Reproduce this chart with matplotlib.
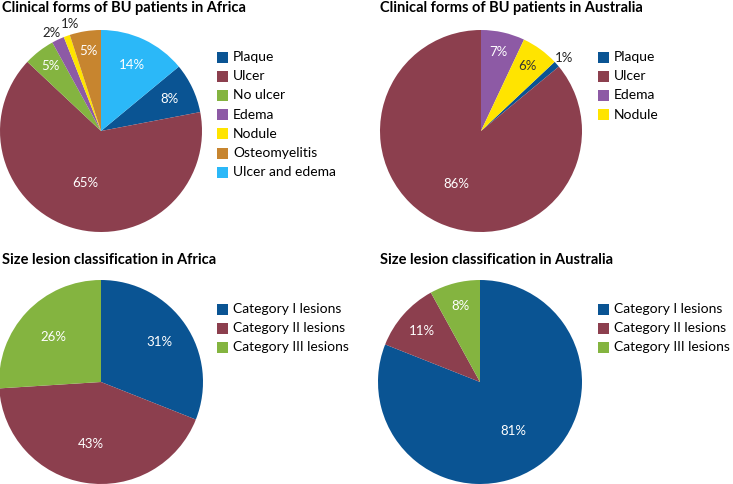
import numpy as np
import matplotlib
matplotlib.use("Agg")
import matplotlib.pyplot as plt
from matplotlib.patches import Rectangle

plt.rcParams['font.family'] = ['Lato', 'DejaVu Sans']

W, H = 733, 484

# Datos
forms_africa = ["Plaque", "Ulcer", "No ulcer", "Edema", "Nodule", "Osteomyelitis", "Ulcer and edema"]
forms_africa_pct = [8, 65, 5, 2, 1, 5, 14]

forms_australia = ["Plaque", "Ulcer", "Edema", "Nodule"]
forms_australia_pct = [1, 86, 7, 6]

size_labels = ["Category I lesions", "Category II lesions", "Category III lesions"]
size_africa_pct = [31, 43, 26]
size_australia_pct = [81, 11, 8]

# Colores
BLUE = "#0a5493"
RED = "#8c3f4e"
GREEN = "#84b440"
PURPLE = "#8d5aa5"
YELLOW = "#ffe400"
ORANGE = "#c7852f"
LIGHTBLUE = "#2bb8f8"

fig = plt.figure(figsize=(W / 100, H / 100), dpi=100)


def px(x, y):
    # pixel -> figure coords
    return x / W, 1 - y / H


def draw_pie(cx, cy, r, values, colors, startangle, dists, txt_colors, shifts=None):
    ax = fig.add_axes([(cx - r) / W, 1 - (cy + r) / H, 2 * r / W, 2 * r / H])
    wedges, _ = ax.pie(values, colors=colors, startangle=startangle,
                       counterclock=False, radius=1,
                       wedgeprops=dict(linewidth=0))
    ax.set_xlim(-1, 1)
    ax.set_ylim(-1, 1)
    ax.set_aspect("equal")
    ax.axis("off")
    if shifts is None:
        shifts = [0] * len(values)
    # Etiquetas de porcentaje
    for w, v, d, c, s in zip(wedges, values, dists, txt_colors, shifts):
        ang = np.deg2rad((w.theta1 + w.theta2) / 2 + s)
        ax.text(d * np.cos(ang), d * np.sin(ang), f"{v}%", ha="center",
                va="center", color=c, fontsize=9.5)
    return wedges


def draw_legend(x, y, labels, colors, step=19.2):
    for i, (lab, col) in enumerate(zip(labels, colors)):
        yy = y + i * step
        fx, fy = px(x, yy + 5.5)
        fig.patches.append(Rectangle((fx, fy), 11 / W, 11 / H, facecolor=col,
                                     edgecolor="none", transform=fig.transFigure))
        tx, ty = px(x + 16, yy)
        fig.text(tx, ty, lab, ha="left", va="center", fontsize=10.0)


def title(x, y, s):
    tx, ty = px(x, y)
    fig.text(tx, ty, s, ha="left", va="center", fontsize=10.5, fontweight="bold")


# Formas clinicas Africa
cols1 = [BLUE, RED, GREEN, PURPLE, YELLOW, ORANGE, LIGHTBLUE]
draw_pie(101, 131, 101, forms_africa_pct, cols1, 90 - 50.4,
         [0.75, 0.54, 0.81, 1.09, 1.1, 0.8, 0.72],
         ["white", "white", "white", "#222222", "#222222", "white", "white"],
         shifts=[0, 0, 0, 1.5, -3.5, 0, 0])
draw_legend(217, 57, forms_africa, cols1)
title(2, 8, "Clinical forms of BU patients in Africa")

# Formas clinicas Australia
cols2 = [BLUE, RED, PURPLE, YELLOW]
draw_pie(481, 131, 101, forms_australia_pct, cols2, 90 - 46.8,
         [1.1, 0.58, 0.8, 0.79],
         ["#222222", "white", "white", "#333333"])
draw_legend(598, 57, forms_australia, cols2)
title(380, 8, "Clinical forms of BU patients in Australia")

# Tamano de lesion
cols3 = [BLUE, RED, GREEN]
draw_pie(101, 382, 102, size_africa_pct, cols3, 90,
         [0.69, 0.62, 0.64], ["white"] * 3)
draw_legend(217, 309, size_labels, cols3)
title(2, 260, "Size lesion classification in Africa")

draw_pie(480, 382, 102, size_australia_pct, cols3, 90,
         [0.58, 0.76, 0.77], ["white"] * 3)
draw_legend(598, 309, size_labels, cols3)
title(380, 260, "Size lesion classification in Australia")

fig.savefig("out.png", dpi=100)
